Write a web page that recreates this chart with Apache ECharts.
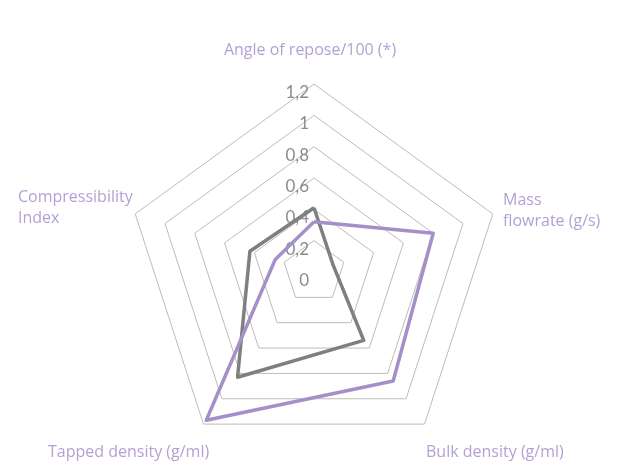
<!DOCTYPE html>
<html>
<head>
<meta charset="utf-8">
<script src="https://cdn.jsdelivr.net/npm/echarts@6/dist/echarts.min.js"></script>
<style>
  html, body { margin: 0; padding: 0; background: #fff; }
  #radarChart { width: 627px; height: 474px; }
</style>
</head>
<body>
<div id="radarChart"></div>
<script>
// categories, clockwise from the top
var categories = ['Angle of repose/100 (*)', 'Mass\nflowrate (g/s)', 'Bulk density (g/ml)', 'Tapped density (g/ml)', 'Compressibility\nIndex'];
var greyValues = [0.41, 0.13, 0.54, 0.83, 0.43];
var purpleValues = [0.32, 0.80, 0.86, 1.17, 0.26];
var axisMax = 1.2;
var axisSplits = 6;

// echarts lays indicators out counterclockwise, so flip the order after the first
var order = [0, 4, 3, 2, 1];
var pick = function (arr) {
    return order.map(function (i) { return arr[i]; });
};

var chartDom = document.getElementById('radarChart');
var myChart = echarts.init(chartDom);

var indicators = pick(categories).map(function (name, i) {
    var ind = { name: name, min: 0, max: axisMax };
    if (i === 0) {
        // only the top axis carries the scale
        ind.axisLabel = {
            show: true,
            color: '#8c8c8c',
            fontSize: 17,
            fontFamily: 'Lato',
            margin: 5,
            verticalAlign: 'top',
            formatter: function (v) {
                return String(Math.round(v * 10) / 10).replace('.', ',');
            }
        };
    }
    return ind;
});

// category names (placed like the excel layout)
var namePlaces = [
    { x: 310, y: 50, align: 'center' },
    { x: 503, y: 211, align: 'left' },
    { x: 426, y: 452, align: 'left' },
    { x: 48, y: 452, align: 'left' },
    { x: 18, y: 208, align: 'left' }
];
var nameGraphics = categories.map(function (name, i) {
    return {
        type: 'text',
        x: namePlaces[i].x,
        y: namePlaces[i].y,
        style: {
            text: name,
            fill: '#b4a0d4',
            font: '16px "Open Sans"',
            lineHeight: 21,
            align: namePlaces[i].align,
            verticalAlign: 'middle'
        }
    };
});

var option = {
    animation: false,
    graphic: nameGraphics,
    radar: {
        center: [314, 272],
        radius: 188,
        startAngle: 90,
        shape: 'polygon',
        splitNumber: axisSplits,
        axisName: { show: false },
        axisLine: { show: false },
        axisTick: { show: false },
        axisLabel: { show: false },
        splitArea: { show: false },
        splitLine: {
            lineStyle: { color: '#bcbcbc', width: 1 }
        },
        indicator: indicators
    },
    series: [
        {
            type: 'radar',
            symbol: 'none',
            data: [
                {
                    value: pick(greyValues),
                    lineStyle: { color: '#7f7f7f', width: 3.5 }
                },
                {
                    value: pick(purpleValues),
                    lineStyle: { color: '#a58fc9', width: 3.5 }
                }
            ]
        }
    ]
};

myChart.setOption(option);
</script>
</body>
</html>
